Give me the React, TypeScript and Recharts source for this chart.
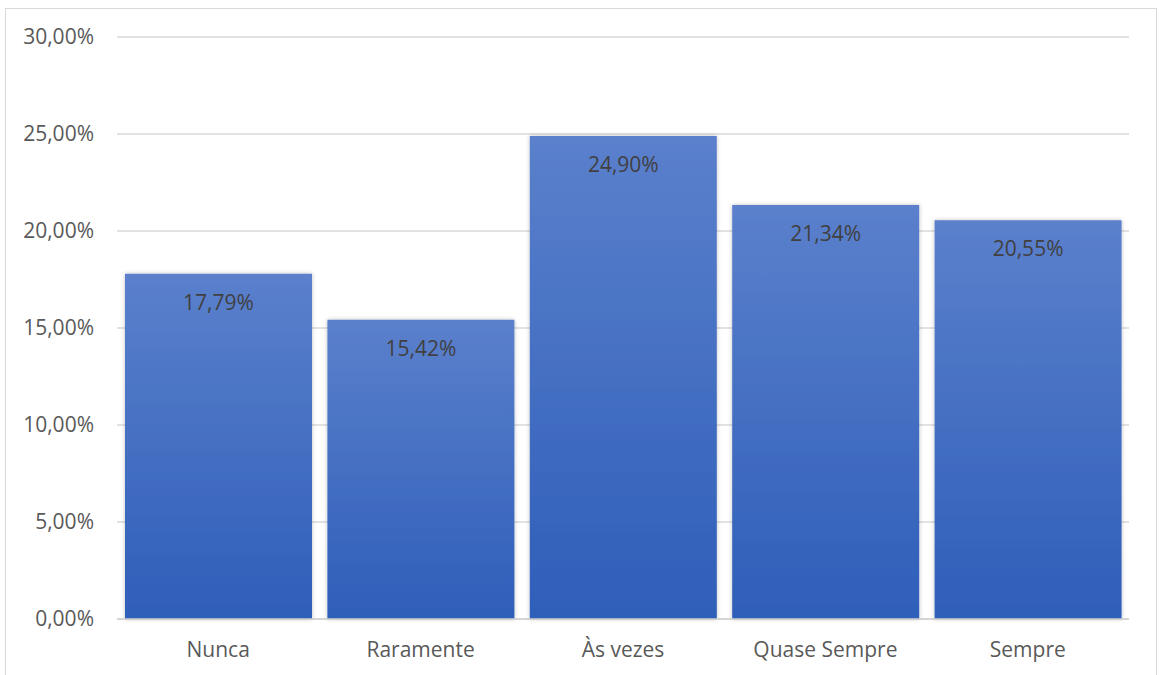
import React from "react";
import {
  BarChart,
  Bar,
  XAxis,
  YAxis,
  CartesianGrid,
  LabelList,
} from "recharts";

const categories = ["Nunca", "Raramente", "Às vezes", "Quase Sempre", "Sempre"];
const percentages = [17.79, 15.42, 24.9, 21.34, 20.55];
const yTicks = [0, 5, 10, 15, 20, 25, 30];

const data = categories.map((name, i) => ({ name, value: percentages[i] }));

const fmt = (v: number) => v.toFixed(2).replace(".", ",") + "%";

const FONT = "'Open Sans', 'Noto Sans', sans-serif";

const App: React.FC = () => (
  <div
    style={{
      position: "absolute",
      left: 0,
      top: 0,
      width: 1159,
      height: 675,
      overflow: "hidden",
      background: "#fff",
      fontFamily: FONT,
    }}
  >
    <div
      style={{
        position: "absolute",
        left: 5,
        top: 8,
        width: 1150,
        height: 720,
        border: "1.5px solid #d9d9d9",
      }}
    />
    <div style={{ position: "absolute", left: 0, top: 0 }}>
      <BarChart
        width={1159}
        height={675}
        data={data}
        margin={{ top: 37, right: 30, left: 0, bottom: 0 }}
      >
        <defs>
          <linearGradient id="barFill" x1="0" y1="0" x2="0" y2="1">
            <stop offset="0%" stopColor="#5b80cc" />
            <stop offset="100%" stopColor="#2e5eb9" />
          </linearGradient>
          <filter id="barShadow" x="-10%" y="-10%" width="120%" height="120%">
            <feDropShadow dx="0" dy="0" stdDeviation="2" floodColor="#000" floodOpacity="0.25" />
          </filter>
        </defs>
        <CartesianGrid vertical={false} stroke="#d9d9d9" strokeWidth={1.5} />
        <XAxis
          dataKey="name"
          height={56}
          axisLine={{ stroke: "#d0d0d0", strokeWidth: 1.5 }}
          tickLine={false}
          tickSize={0}
          tickMargin={23}
          tick={{ fill: "#595959", fontSize: 21, fontFamily: FONT }}
        />
        <YAxis
          width={117}
          domain={[0, 30]}
          ticks={yTicks}
          tickFormatter={fmt}
          axisLine={false}
          tickLine={false}
          tickSize={0}
          tickMargin={23}
          tick={{ fill: "#595959", fontSize: 21, fontFamily: FONT }}
        />
        <Bar
          dataKey="value"
          fill="url(#barFill)"
          barSize={187}
          filter="url(#barShadow)"
          isAnimationActive={false}
        >
          <LabelList
            dataKey="value"
            position="insideTop"
            offset={21}
            formatter={(v: any) => fmt(Number(v))}
            style={{ fill: "#404040", fontSize: 21, fontFamily: FONT }}
          />
        </Bar>
      </BarChart>
    </div>
  </div>
);

export default App;
